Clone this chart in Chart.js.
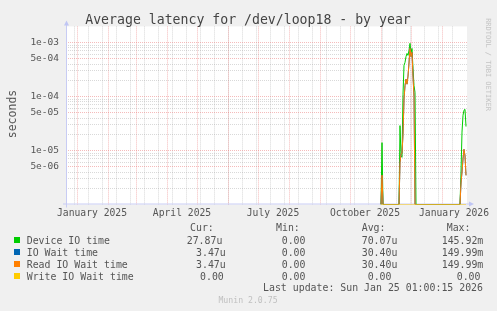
<!DOCTYPE html>
<html>
<head>
<meta charset="utf-8">
<script src="https://cdn.jsdelivr.net/npm/chart.js@4.4.1/dist/chart.umd.min.js"></script>
<style>
  html, body { margin: 0; padding: 0; background: #f0f0f0; }
  canvas { display: block; }
</style>
</head>
<body>
<canvas id="latencyChart" width="497" height="311"></canvas>
<script>
// x = days since 2024-12-21 00:00 UTC (start of the 400 day window)
const days     = [315, 316, 317, 333, 334, 335, 336, 337, 338, 339, 340, 341, 342, 343, 344, 345, 346, 347, 348, 349, 350, 394, 395, 396, 397, 398, 399, 400];
const deviceIO = [0, 1.4e-5, 0, 0, 2.9e-5, 8e-6, 7.5e-6, 1.1e-4, 3.8e-4, 4.3e-4, 5.5e-4, 6.3e-4, 5.8e-4, 7.2e-4, 9.7e-4, 6.6e-4, 7.8e-4, 3.3e-4, 1.6e-4, 1.2e-4, 0, 0, 4e-6, 2.2e-5, 4.5e-5, 5.6e-5, 5.8e-5, 2.787e-5];
const ioWait   = [0, 3.5e-6, 0, 0, 6e-6, 8.5e-6, 9e-6, 2e-5, 9e-5, 1.6e-4, 2.1e-4, 1.7e-4, 2.4e-4, 4.2e-4, 7.8e-4, 5.5e-4, 6.6e-4, 2.4e-4, 1.0e-4, 0, 0, 0, 2.5e-6, 4e-6, 7e-6, 1.05e-5, 8e-6, 3.47e-6];
const readIO   = [0, 3.5e-6, 0, 0, 6e-6, 8.5e-6, 9e-6, 2e-5, 9e-5, 1.6e-4, 2.1e-4, 1.7e-4, 2.4e-4, 4.2e-4, 7.8e-4, 5.5e-4, 6.6e-4, 2.4e-4, 1.0e-4, 0, 0, 0, 2.5e-6, 4e-6, 7e-6, 1.05e-5, 8e-6, 3.47e-6];
const writeIO  = [0, 0, 0, 0, 0, 0, 0, 0, 0, 0, 0, 0, 0, 0, 0, 0, 0, 0, 0, 0, 0, 0, 0, 0, 0, 0, 0, 0];

const seriesNames  = ['Device IO time', 'IO Wait time', 'Read IO Wait time', 'Write IO Wait time'];
const seriesColors = ['#00cc00', '#0066b3', '#ff8000', '#ffcc00'];
const curVals = ['27.87u', '3.47u', '3.47u', '0.00'];
const minVals = ['0.00', '0.00', '0.00', '0.00'];
const avgVals = ['70.07u', '30.40u', '30.40u', '0.00'];
const maxVals = ['145.92m', '149.99m', '149.99m', '0.00'];

const yTickValues = [5e-6, 1e-5, 5e-5, 1e-4, 5e-4, 1e-3];
const yTickLabels = ['5e-06', '1e-05', '5e-05', '1e-04', '5e-04', '1e-03'];
const xTickLabels = ['January 2025', 'April 2025', 'July 2025', 'October 2025', 'January 2026'];

const Y_MIN = 1e-6, Y_MAX = 2e-3;
const START = Date.UTC(2024, 11, 21);
const dayOf = (y, m, d) => (Date.UTC(y, m, d) - START) / 86400000;
const xLabelDays = [dayOf(2025, 0, 16), dayOf(2025, 3, 16), dayOf(2025, 6, 16), dayOf(2025, 9, 16), dayOf(2026, 0, 13)];

// grid positions
const monthDays = [];
for (let m = 0; m <= 12; m++) monthDays.push(dayOf(2025, m, 1));
const weekDays = [];
for (let d = dayOf(2024, 11, 29); d < 400; d += 14) weekDays.push(d);
const xTicks = [
  ...weekDays.map(v => ({ value: v, kind: 'minor' })),
  ...monthDays.map(v => ({ value: v, kind: 'major' })),
  ...xLabelDays.map((v, i) => ({ value: v, kind: 'label', text: xTickLabels[i] }))
].sort((a, b) => a.value - b.value);

const yGrid = [];
for (let e = -6; e <= -3; e++) {
  for (let m = 1; m <= 9; m++) {
    const v = m * Math.pow(10, e);
    if (v > 1.01e-6 && v < 1.9e-3) yGrid.push({ value: v, kind: (m === 1 || m === 5) ? 'major' : 'minor' });
  }
}

const MAJOR = 'rgba(235, 120, 120, 0.5)';
const MINOR = 'rgba(160, 160, 160, 0.4)';
const MONO = "'DejaVu Sans Mono', monospace";

const muninDecor = {
  id: 'muninDecor',
  beforeDraw(chart) {
    const { ctx, chartArea: a } = chart;
    ctx.save();
    ctx.fillStyle = '#f0f0f0';
    ctx.fillRect(0, 0, chart.width, chart.height);
    ctx.fillStyle = '#ffffff';
    ctx.fillRect(a.left, a.top, a.right - a.left, a.bottom - a.top);
    ctx.restore();
  },
  beforeDatasetsDraw(chart) {
    const { ctx, chartArea: a } = chart;
    ctx.save();
    ctx.strokeStyle = '#c8ccf4';
    ctx.fillStyle = '#c0c6f4';
    ctx.lineWidth = 1;
    ctx.beginPath();
    ctx.moveTo(a.left + 0.5, a.bottom + 3);
    ctx.lineTo(a.left + 0.5, a.top - 3);
    ctx.moveTo(a.left - 3, a.bottom - 0.5);
    ctx.lineTo(a.right + 2, a.bottom - 0.5);
    ctx.stroke();
    ctx.beginPath();
    ctx.moveTo(a.left + 0.5, a.top - 6);
    ctx.lineTo(a.left - 2, a.top - 1);
    ctx.lineTo(a.left + 3, a.top - 1);
    ctx.closePath();
    ctx.fill();
    ctx.beginPath();
    ctx.moveTo(a.right + 7, a.bottom - 0.5);
    ctx.lineTo(a.right + 2, a.bottom - 3);
    ctx.lineTo(a.right + 2, a.bottom + 2);
    ctx.closePath();
    ctx.fill();
    ctx.restore();
  },
  afterDraw(chart) {
    const ctx = chart.ctx;
    ctx.save();
    ctx.textBaseline = 'alphabetic';
    // title
    ctx.fillStyle = '#444';
    ctx.font = '13.2px ' + MONO;
    ctx.textAlign = 'center';
    ctx.fillText('Average latency for /dev/loop18 - by year', 248, 23.5);
    // y title
    ctx.save();
    ctx.translate(15.5, 114);
    ctx.rotate(-Math.PI / 2);
    ctx.font = '11.5px ' + MONO;
    ctx.fillStyle = '#555';
    ctx.fillText('seconds', 0, 0);
    ctx.restore();
    // rrdtool credit
    ctx.save();
    ctx.translate(486, 64.5);
    ctx.rotate(Math.PI / 2);
    ctx.font = '7px ' + MONO;
    ctx.fillStyle = '#c4c4c4';
    ctx.fillText('RRDTOOL / TOBI OETIKER', 0, 0);
    ctx.restore();
    // legend table
    ctx.font = '9.9px ' + MONO;
    ctx.textAlign = 'left';
    ctx.fillStyle = '#555';
    ctx.fillText('Cur:', 190, 231.3);
    ctx.fillText('Min:', 276, 231.3);
    ctx.fillText('Avg:', 361.7, 231.3);
    ctx.fillText('Max:', 446.7, 231.3);
    const curX = [186.7, 196, 196, 200];
    const avgX = [361.7, 361.7, 361.7, 367.7];
    const maxX = [441.7, 441.7, 441.7, 456.7];
    seriesNames.forEach((name, i) => {
      const y = 243.6 + i * 12;
      ctx.fillStyle = seriesColors[i];
      ctx.fillRect(14, y - 6.6, 6, 6);
      ctx.fillStyle = '#555';
      ctx.fillText(name, 26.7, y);
      ctx.fillText(curVals[i], curX[i], y);
      ctx.fillText(minVals[i], 281.7, y);
      ctx.fillText(avgVals[i], avgX[i], y);
      ctx.fillText(maxVals[i], maxX[i], y);
    });
    ctx.textAlign = 'right';
    ctx.fillText('Last update: Sun Jan 25 01:00:15 2026', 483, 290.9);
    ctx.textAlign = 'center';
    ctx.font = '8.2px ' + MONO;
    ctx.fillStyle = '#c0c0c0';
    ctx.fillText('Munin 2.0.75', 248, 303);
    ctx.restore();
  }
};

const series = [deviceIO, ioWait, readIO, writeIO];
const ctx = document.getElementById('latencyChart').getContext('2d');

new Chart(ctx, {
  type: 'line',
  data: {
    datasets: series.map((vals, i) => ({
      label: seriesNames[i],
      // zero has no place on a log axis: like rrdtool, draw it on the floor
      data: days.map((d, k) => ({ x: d, y: vals[k] > 0 ? vals[k] : Y_MIN })),
      borderColor: seriesColors[i],
      backgroundColor: seriesColors[i],
      borderWidth: 1,
      pointRadius: 0,
      tension: 0,
      fill: false,
      order: 4 - i
    }))
  },
  options: {
    responsive: false,
    animation: false,
    devicePixelRatio: 1,
    layout: { padding: { left: 0, right: 30, top: 26.4, bottom: 0 } },
    plugins: {
      legend: { display: false },
      tooltip: { enabled: false },
      title: { display: false }
    },
    scales: {
      x: {
        type: 'linear',
        min: 0,
        max: 401,
        afterBuildTicks: s => { s.ticks = xTicks.map(t => ({ ...t })); },
        afterFit: s => { s.height = 311 - 204.5; s.paddingLeft = 0; s.paddingRight = 0; },
        ticks: {
          autoSkip: false,
          maxRotation: 0,
          minRotation: 0,
          padding: 3,
          color: '#555',
          font: { family: MONO, size: 9.7 },
          callback: (v, i, ticks) => ticks[i].kind === 'label' ? ticks[i].text : ''
        },
        grid: {
          drawTicks: false,
          lineWidth: 1,
          color: c => c.tick && c.tick.kind === 'major' ? MAJOR : (c.tick && c.tick.kind === 'minor' ? MINOR : 'rgba(0,0,0,0)')
        },
        border: { display: false, dash: [1, 1] }
      },
      y: {
        type: 'logarithmic',
        min: Y_MIN,
        max: Y_MAX,
        afterBuildTicks: s => { s.ticks = yGrid.map(t => ({ ...t })); },
        afterFit: s => { s.width = 66; },
        ticks: {
          autoSkip: false,
          padding: 7,
          color: '#555',
          font: { family: MONO, size: 9.5 },
          callback: v => {
            const k = yTickValues.findIndex(t => Math.abs(v / t - 1) < 1e-6);
            return k >= 0 ? yTickLabels[k] : '';
          }
        },
        grid: {
          drawTicks: false,
          lineWidth: 1,
          color: c => c.tick && c.tick.kind === 'major' ? MAJOR : MINOR
        },
        border: { display: false, dash: [1, 1] }
      }
    }
  },
  plugins: [muninDecor]
});
</script>
</body>
</html>
